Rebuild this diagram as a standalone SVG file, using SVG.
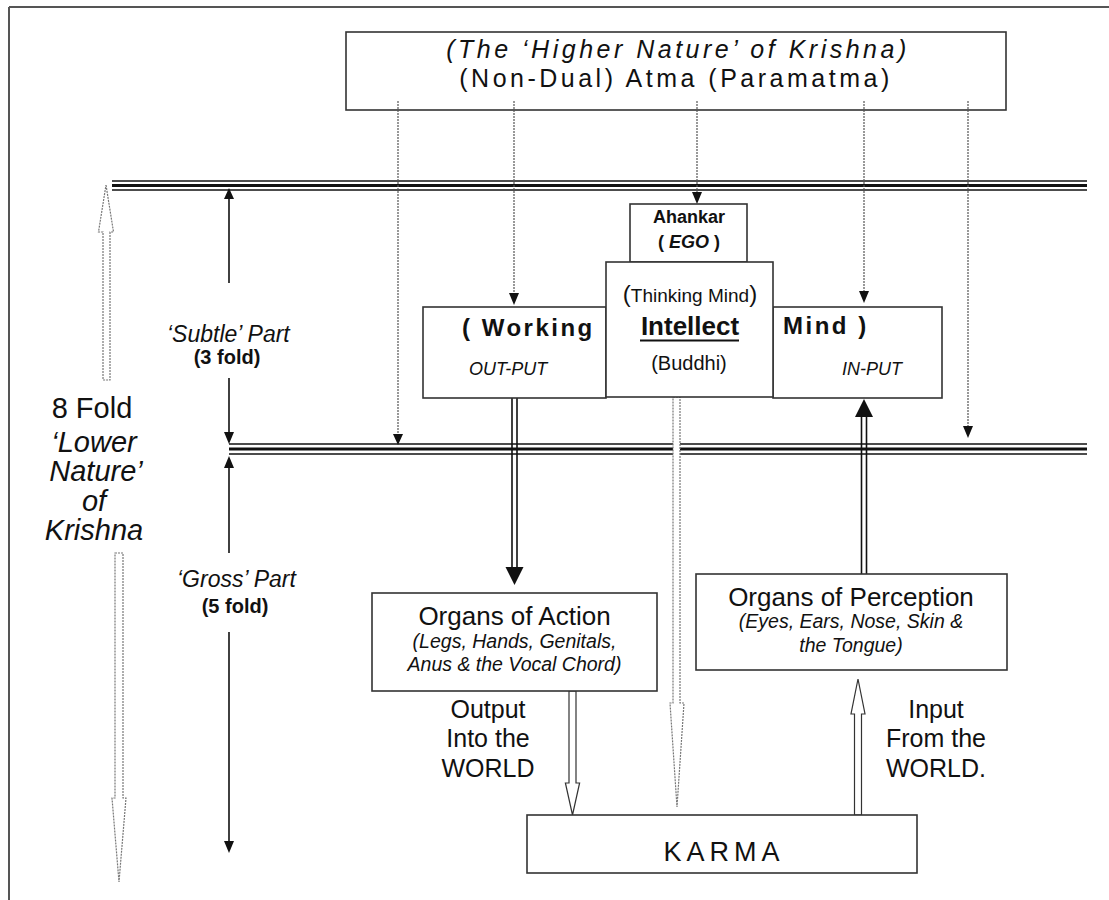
<svg xmlns="http://www.w3.org/2000/svg" width="1109" height="900" viewBox="0 0 1109 900">
<style>
  text { font-family: "Liberation Sans", Arial, sans-serif; fill: #111; }
  .box { fill: #fff; stroke: #333; stroke-width: 1.6; }
  .dot { stroke: #555; stroke-width: 1.2; stroke-dasharray: 2 1; fill: none; }
  .ln { stroke: #111; stroke-width: 1.6; fill: none; }
  .dbl { stroke: #111; stroke-width: 1.6; fill: none; }
  .hollow { fill: #fff; stroke: #333; stroke-width: 1.2; }
  .hdot { fill: #fff; stroke: #777; stroke-width: 1.2; stroke-dasharray: 2 1; }
  .head { fill: #111; }
  .it { font-style: italic; }
  .b { font-weight: bold; }
  .mid { text-anchor: middle; }
</style>

<g id="frame">
  <line x1="9" y1="7" x2="1109" y2="7" stroke="#555" stroke-width="2"/>
  <line x1="9" y1="7" x2="9" y2="900" stroke="#555" stroke-width="2"/>
</g>

<g id="levels">
  <line x1="112" y1="181" x2="1087" y2="181" stroke="#111" stroke-width="1.5"/>
  <line x1="112" y1="185.5" x2="1087" y2="185.5" stroke="#111" stroke-width="3"/>
  <line x1="112" y1="190" x2="1087" y2="190" stroke="#111" stroke-width="1.5"/>
  <line x1="229" y1="444" x2="1087" y2="444" stroke="#111" stroke-width="1.5"/>
  <line x1="229" y1="449" x2="1087" y2="449" stroke="#111" stroke-width="3"/>
  <line x1="229" y1="454" x2="1087" y2="454" stroke="#111" stroke-width="1.5"/>
</g>

<g id="top">
  <rect class="box" x="346" y="32" width="660" height="78"/>
  <text class="it mid" x="678" y="58" font-size="25" letter-spacing="3.5">(The ‘Higher Nature’ of Krishna)</text>
  <text class="mid" x="676" y="87" font-size="25" letter-spacing="3.5">(Non-Dual) Atma (Paramatma)</text>
</g>

<g id="connectors">
  <line class="dot" x1="398" y1="101" x2="398" y2="435"/>
  <polygon class="head" points="393,434 403,434 398,445"/>
  <line class="dot" x1="514" y1="101" x2="514" y2="294"/>
  <polygon class="head" points="509,293 519,293 514,305"/>
  <line class="dot" x1="697" y1="101" x2="697" y2="193"/>
  <polygon class="head" points="692,192 702,192 697,204"/>
  <line class="dot" x1="864" y1="101" x2="864" y2="292"/>
  <polygon class="head" points="859,291 869,291 864,303"/>
  <line class="dot" x1="968" y1="101" x2="968" y2="427"/>
  <polygon class="head" points="963,426 973,426 968,438"/>

  <line class="ln" x1="229" y1="196" x2="229" y2="283"/>
  <polygon class="head" points="224,199 234,199 229,188"/>
  <line class="ln" x1="229" y1="378" x2="229" y2="435"/>
  <polygon class="head" points="224,432 234,432 229,444"/>
  <line class="ln" x1="229" y1="465" x2="229" y2="553"/>
  <polygon class="head" points="224,468 234,468 229,456"/>
  <line class="ln" x1="229" y1="632" x2="229" y2="843"/>
  <polygon class="head" points="224,841 234,841 229,853"/>

  <path class="hdot" d="M106,185 L113.5,232 L110,232 L110,380 L103,380 L103,232 L98.5,232 Z"/>
  <path class="hdot" d="M115,553 L123,553 L123,798 L126,798 L119,882 L112,798 L115,798 Z"/>

  <path class="hdot" d="M673,397 L680,397 L680,703 L684,703 L677,807 L670,703 L673,703 Z"/>

  <line class="dbl" x1="512" y1="398" x2="512" y2="569"/>
  <line class="dbl" x1="517" y1="398" x2="517" y2="569"/>
  <polygon class="head" points="505.5,567 523.5,567 514.5,585"/>

  <line class="dbl" x1="861.5" y1="415" x2="861.5" y2="574"/>
  <line class="dbl" x1="866.5" y1="415" x2="866.5" y2="574"/>
  <polygon class="head" points="855,417 873,417 864,399"/>

  <line class="dbl" x1="580" y1="357.7" x2="618" y2="357.7" stroke-width="1.4"/>
  <line class="dbl" x1="580" y1="362.3" x2="618" y2="362.3" stroke-width="1.4"/>
  <polygon class="head" points="568,360 583,354 583,366"/>
  <line class="dbl" x1="760" y1="357.7" x2="800" y2="357.7" stroke-width="1.4"/>
  <line class="dbl" x1="760" y1="362.3" x2="800" y2="362.3" stroke-width="1.4"/>
  <polygon class="head" points="748,360 763,354 763,366"/>

  <path class="hollow" d="M569,691 L576,691 L576,783 L579.6,783 L572.5,815 L565.4,783 L569,783 Z"/>
  <path class="hollow" d="M858,679 L865,714 L861.5,714 L861.5,815 L854.5,815 L854.5,714 L851,714 Z"/>
</g>

<g id="ahankar">
  <rect class="box" x="630" y="204" width="117" height="58"/>
  <text class="b mid" x="689" y="223" font-size="18">Ahankar</text>
  <text class="b mid" x="689" y="248" font-size="18">( <tspan class="it">EGO</tspan> )</text>
</g>

<g id="working">
  <rect class="box" x="423" y="307" width="183" height="91"/>
  <text class="b" x="462" y="336" font-size="24" letter-spacing="2.5">( Working</text>
  <text class="it" x="469" y="375" font-size="18" fill="#222">OUT-PUT</text>
</g>

<g id="mind">
  <rect class="box" x="773" y="307" width="169" height="91"/>
  <text class="b" x="783" y="334" font-size="24" letter-spacing="2.5">Mind )</text>
  <text class="it" x="842" y="375" font-size="18" fill="#222">IN-PUT</text>
</g>

<g id="intellect">
  <rect class="box" x="606" y="262" width="167" height="135"/>
  <text class="mid" x="690" y="302" font-size="19"><tspan font-size="24">(</tspan>Thinking Mind<tspan font-size="24">)</tspan></text>
  <text class="b mid" x="690" y="335" font-size="26">Intellect</text>
  <line x1="640" y1="340.5" x2="739" y2="340.5" stroke="#111" stroke-width="2"/>
  <text class="mid" x="689" y="370" font-size="20">(Buddhi)</text>
</g>

<g id="lower-nature">
  <text class="mid" x="92" y="418" font-size="29">8 Fold</text>
  <text class="it mid" x="94" y="452" font-size="29">‘Lower</text>
  <text class="it mid" x="96" y="481" font-size="29">Nature’</text>
  <text class="it mid" x="94" y="511" font-size="29">of</text>
  <text class="it mid" x="94" y="540" font-size="29">Krishna</text>
</g>

<g id="subtle">
  <text class="it" x="167" y="342" font-size="23">‘Subtle’ Part</text>
  <text class="b mid" x="227" y="364" font-size="20">(3 fold)</text>
</g>

<g id="gross">
  <text class="it" x="177" y="587" font-size="23">‘Gross’ Part</text>
  <text class="b mid" x="235" y="613" font-size="20">(5 fold)</text>
</g>

<g id="organs-action">
  <rect class="box" x="372" y="593" width="285" height="98"/>
  <text class="mid" x="514.5" y="625" font-size="26">Organs of Action</text>
  <text class="it mid" x="514.5" y="648" font-size="19.5" fill="#222">(Legs, Hands, Genitals,</text>
  <text class="it mid" x="514.5" y="671" font-size="19.5" fill="#222">Anus &amp; the Vocal Chord)</text>
</g>

<g id="organs-perception">
  <rect class="box" x="696" y="574" width="311" height="96"/>
  <text class="mid" x="851" y="606" font-size="26">Organs of Perception</text>
  <text class="it mid" x="851" y="628" font-size="19.5" fill="#222">(Eyes, Ears, Nose, Skin &amp;</text>
  <text class="it mid" x="851" y="652" font-size="19.5" fill="#222">the Tongue)</text>
</g>

<g id="output-label">
  <text class="mid" x="488" y="718" font-size="25">Output</text>
  <text class="mid" x="488" y="747" font-size="25">Into the</text>
  <text class="mid" x="488" y="777" font-size="25">WORLD</text>
</g>

<g id="input-label">
  <text class="mid" x="936" y="718" font-size="25">Input</text>
  <text class="mid" x="936" y="747" font-size="25">From the</text>
  <text class="mid" x="936" y="777" font-size="25">WORLD.</text>
</g>

<g id="karma">
  <rect class="box" x="527" y="815" width="390" height="58"/>
  <text class="mid" x="724" y="861" font-size="27" letter-spacing="5">KARMA</text>
</g>
</svg>
